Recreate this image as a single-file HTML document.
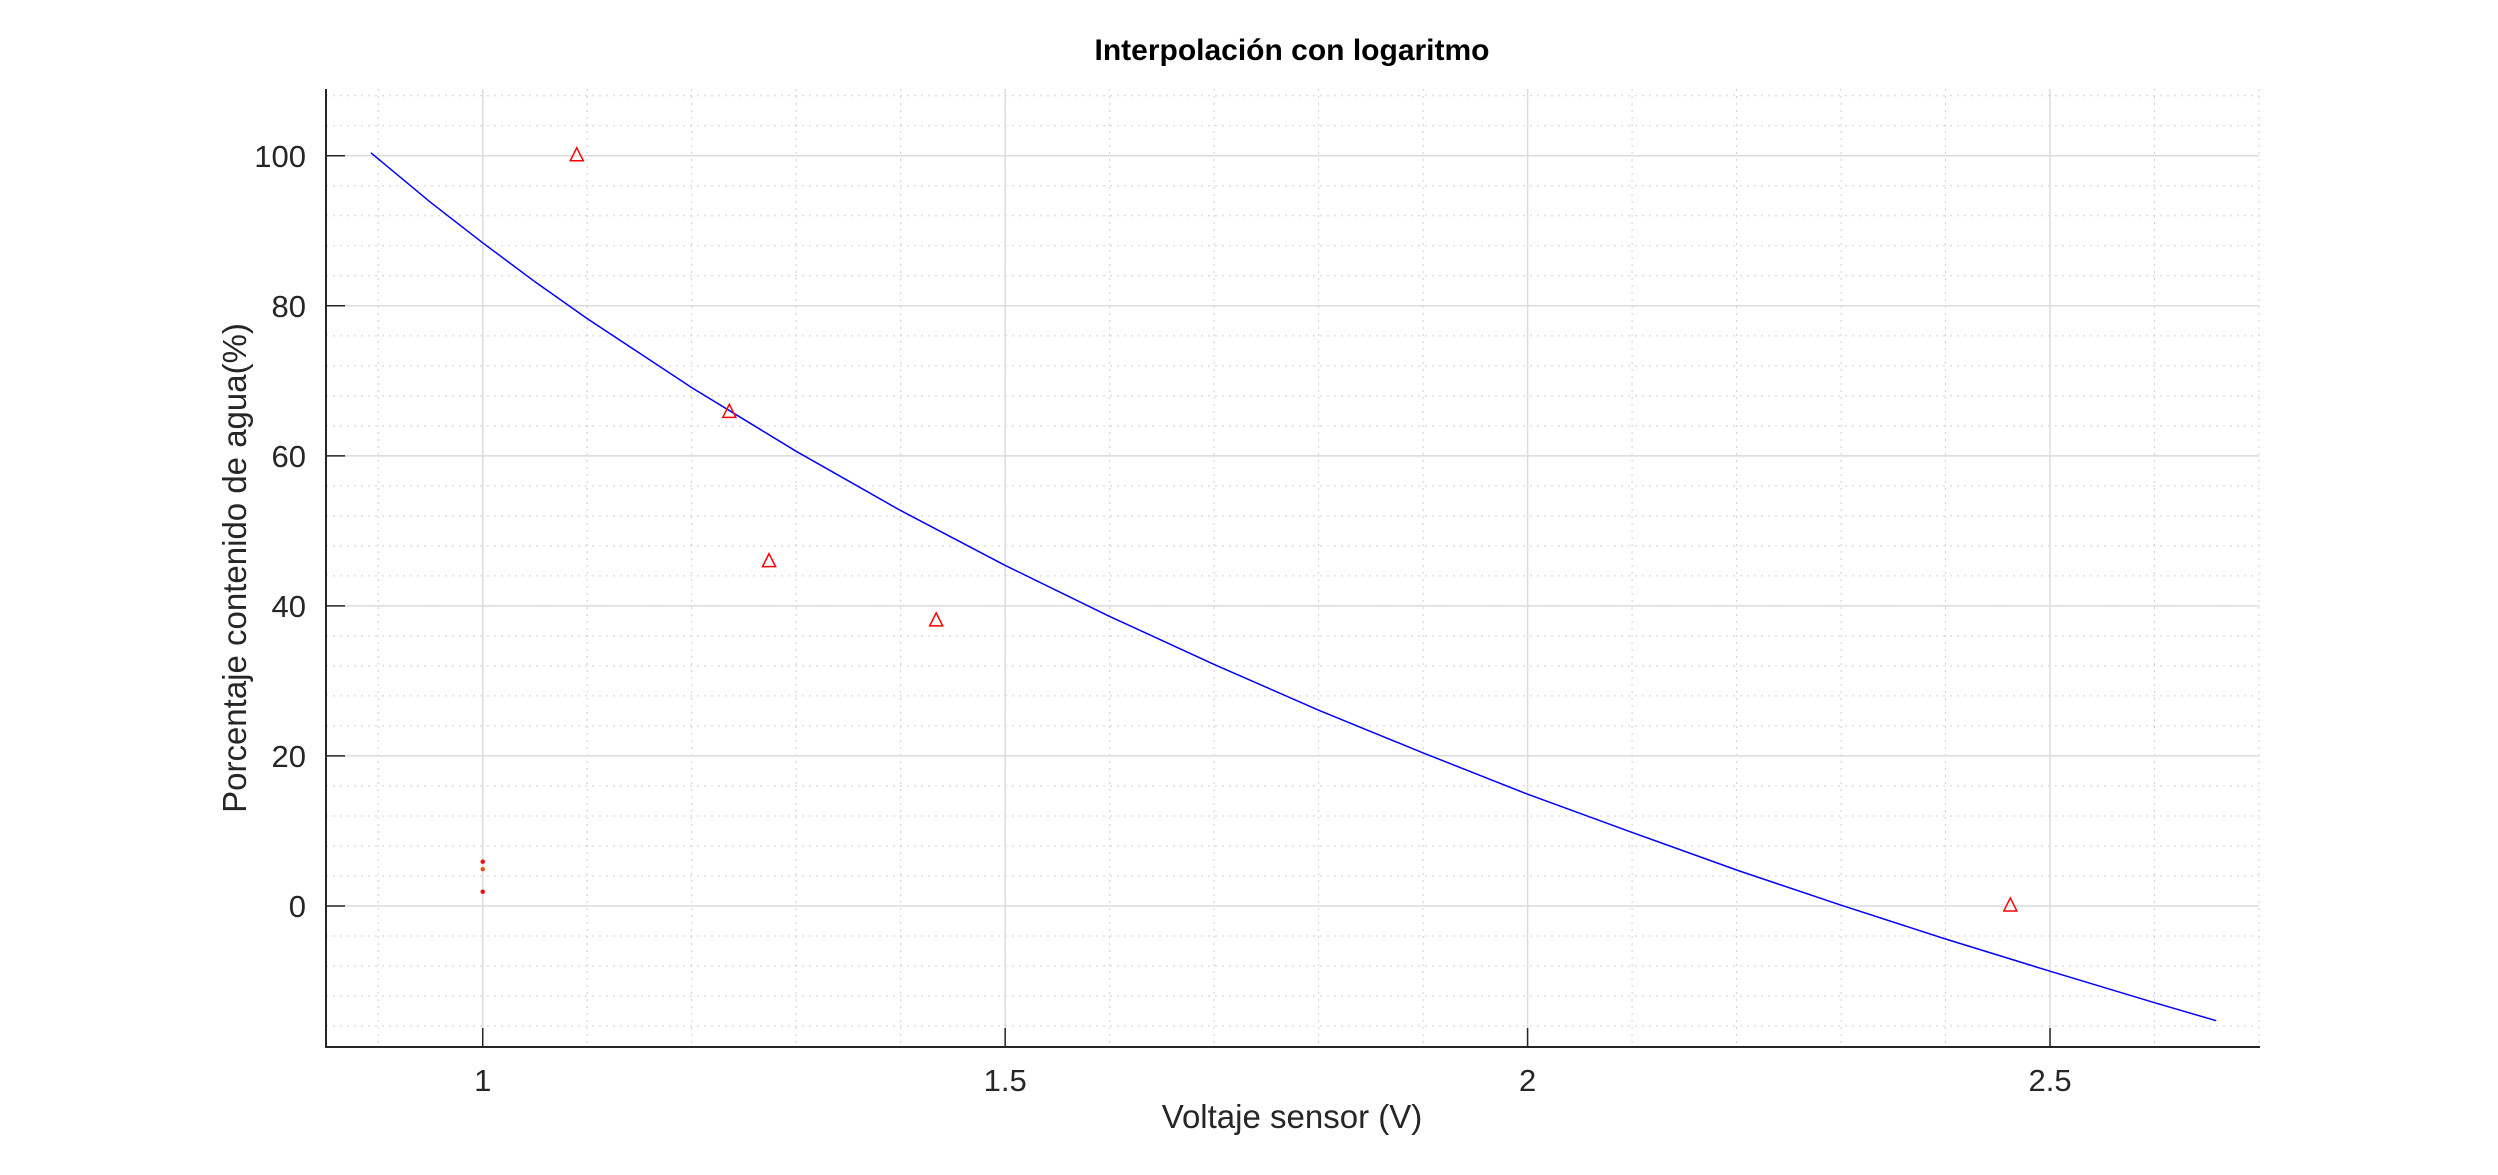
<!DOCTYPE html>
<html><head><meta charset="utf-8"><style>
html,body{margin:0;padding:0;background:#fff;}
svg{display:block;font-family:"Liberation Sans",Arial,sans-serif;}
</style></head><body>
<svg id="chart" width="2498" height="1175" viewBox="0 0 2498 1175" xmlns="http://www.w3.org/2000/svg">
<rect width="2498" height="1175" fill="#fff"/>
<g id="grid"></g>
<g id="marks"></g>
<g id="axes"></g>
<text x="1292" y="60" text-anchor="middle" font-size="30" font-weight="bold" fill="#000">Interpolación con logaritmo</text>
<text x="1292" y="1128" text-anchor="middle" font-size="33" fill="#262626">Voltaje sensor (V)</text>
<text x="0" y="0" transform="translate(246,568) rotate(-90)" text-anchor="middle" font-size="33" fill="#262626">Porcentaje contenido de agua(%)</text>
</svg>
<script>
const xTicks = [1, 1.5, 2, 2.5];
const xTickLabels = ["1", "1.5", "2", "2.5"];
const yTicks = [0, 20, 40, 60, 80, 100];
const yTickLabels = ["0", "20", "40", "60", "80", "100"];
const triX = [1.09, 1.236, 1.274, 1.434, 2.462];
const triY = [100, 65.8, 45.9, 38, 0];
const dotX = [1, 1, 1];
const dotY = [5.9, 4.9, 1.9];
const curveX = [0.893, 0.95, 1.0, 1.05, 1.1, 1.2, 1.3, 1.4, 1.5, 1.6, 1.7, 1.8, 1.9, 2.0, 2.1, 2.2, 2.3, 2.4, 2.5, 2.6, 2.659];
const curveY = [100.4, 93.8, 88.4, 83.2, 78.3, 69.1, 60.6, 52.7, 45.4, 38.6, 32.2, 26.1, 20.4, 14.9, 9.8, 4.8, 0.1, -4.4, -8.7, -12.9, -15.3];

const XMIN = 0.85, XMAX = 2.7, YMIN = -18.8, YMAX = 108.9;
const L = 326, R = 2259, T = 89, B = 1047;
const sx = v => L + (v - XMIN) / (XMAX - XMIN) * (R - L);
const sy = v => B - (v - YMIN) / (YMAX - YMIN) * (B - T);
const NS = "http://www.w3.org/2000/svg";
function mk(tag, parent, attrs) {
  const e = document.createElementNS(NS, tag);
  for (const k in attrs) e.setAttribute(k, attrs[k]);
  parent.appendChild(e);
  return e;
}
const grid = document.getElementById('grid');
const marks = document.getElementById('marks');
const axes = document.getElementById('axes');

for (let i = 9; i <= 27; i++) {
  const v = i / 10;
  if (v < XMIN || v > XMAX + 1e-9) continue;
  const ln = mk('line', grid, {x1: sx(v), x2: sx(v), y1: T, y2: B, stroke: '#cfcfcf', 'stroke-width': 1, 'stroke-dasharray': '2 5'});
  
  
}
for (let v = -16; v <= 108; v += 4) {
  const ln = mk('line', grid, {x1: L, x2: R, y1: sy(v), y2: sy(v), stroke: '#cfcfcf', 'stroke-width': 1, 'stroke-dasharray': '2 5'});
  
  
}
xTicks.forEach(v => {
  const ln = mk('line', grid, {x1: sx(v), x2: sx(v), y1: T, y2: B, stroke: '#dcdcdc', 'stroke-width': 1.5});
  
  
});
yTicks.forEach(v => {
  const ln = mk('line', grid, {x1: L, x2: R, y1: sy(v), y2: sy(v), stroke: '#dcdcdc', 'stroke-width': 1.5});
  
  
});

const pts = curveX.map((x, i) => sx(x).toFixed(1) + ',' + sy(curveY[i]).toFixed(1)).join(' ');
const pl = mk('polyline', marks, {points: pts, fill: 'none', stroke: '#0000ff', 'stroke-width': 1.5, 'stroke-linejoin': 'round'});



triX.forEach((x, i) => {
  const cx = sx(x), cy = sy(triY[i]);
  const p = mk('polygon', marks, {points: `${cx},${cy-8} ${cx-6.5},${cy+5} ${cx+6.5},${cy+5}`, fill: 'none', stroke: '#ff0000', 'stroke-width': 1.5});
  
  
});
dotX.forEach((x, i) => {
  const c = mk('circle', marks, {cx: sx(x), cy: sy(dotY[i]), r: 2.2, fill: i === 1 ? '#e8501a' : '#ff0000'});
  
  
});

const ax1 = mk('line', axes, {x1: L, x2: R + 1, y1: B, y2: B, stroke: '#262626', 'stroke-width': 2});


const ax2 = mk('line', axes, {x1: L, x2: L, y1: T, y2: B + 1, stroke: '#262626', 'stroke-width': 2});



xTicks.forEach((v, i) => {
  const t = mk('line', axes, {x1: sx(v), x2: sx(v), y1: B, y2: B - 19, stroke: '#262626', 'stroke-width': 1.5});
  
  
  const tx = mk('text', axes, {x: sx(v), y: 1091, 'text-anchor': 'middle', 'font-size': 31, fill: '#262626'});
  tx.textContent = xTickLabels[i];
  
  
});
yTicks.forEach((v, i) => {
  const t = mk('line', axes, {x1: L, x2: L + 19, y1: sy(v), y2: sy(v), stroke: '#262626', 'stroke-width': 1.5});
  
  
  const tx = mk('text', axes, {x: 306, y: sy(v) + 11, 'text-anchor': 'end', 'font-size': 31, fill: '#262626'});
  tx.textContent = yTickLabels[i];
  
  
});
</script>
</body></html>
